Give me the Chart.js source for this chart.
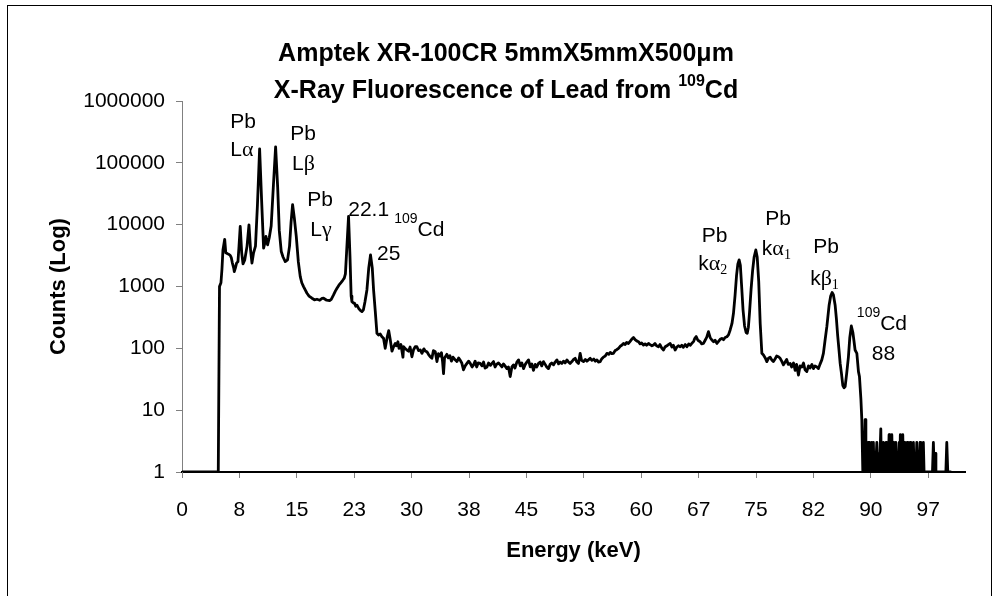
<!DOCTYPE html>
<html>
<head>
<meta charset="utf-8">
<title>XRF of Lead from 109Cd</title>
<script src="https://cdn.jsdelivr.net/npm/chart.js@4.4.0/dist/chart.umd.min.js"></script>
<style>
  html, body { margin: 0; padding: 0; background: #fff; }
  #wrap { width: 1003px; height: 596px; }
</style>
</head>
<body>
<div id="wrap"><canvas id="spectrum" width="1003" height="596"></canvas></div>
<script>
const xTickLabels = ['0', '8', '15', '23', '30', '38', '45', '53', '60', '67', '75', '82', '90', '97'];
const xTickStep = 7.5;
const yTickValues = [1, 10, 100, 1000, 10000, 100000, 1000000];

const energyKeV = [
    0, 2.5, 4.74, 4.9, 5.09, 5.22, 5.35, 5.58, 5.72, 5.96,
    6.15, 6.31, 6.45, 6.57, 6.75, 6.83, 6.98, 7.13, 7.31, 7.45,
    7.61, 7.8, 7.97, 8.2, 8.5, 8.75, 8.95, 9.14, 9.35, 9.6,
    9.85, 10.14, 10.4, 10.66, 10.85, 10.97, 11.18, 11.4, 11.65, 11.95,
    12.23, 12.5, 12.71, 12.97, 13.2, 13.49, 13.79, 14.05, 14.25, 14.45,
    14.67, 14.93, 15.2, 15.45, 15.65, 15.88, 16.1, 16.33, 16.6, 16.98,
    17.3, 17.63, 18.0, 18.3, 18.5, 18.9, 19.28, 19.5, 19.8, 20.05,
    20.25, 20.5, 20.77, 21.0, 21.2, 21.35, 21.5, 21.76, 21.95, 22.1,
    22.2, 22.4, 22.54, 22.7, 22.86, 23.1, 23.3, 23.51, 23.7, 23.9,
    24.16, 24.4, 24.63, 24.86, 25.03, 25.25, 25.47, 25.68, 25.9, 26.12,
    26.33, 26.55, 26.8, 27.01, 27.2, 27.43, 27.64, 27.86, 28.0, 28.21,
    28.35, 28.6, 28.87, 28.95, 29.2, 29.39, 29.6, 29.8, 30.04, 30.25,
    30.47, 30.69, 30.9, 31.13, 31.35, 31.6, 31.8, 32.0, 32.2, 32.43,
    32.65, 32.85, 33.09, 33.31, 33.5, 33.7, 33.9, 34.05, 34.17, 34.3,
    34.61, 34.8, 35.0, 35.2, 35.4, 35.65, 35.92, 36.15, 36.35, 36.55,
    36.78, 37.0, 37.23, 37.45, 37.66, 37.9, 38.09, 38.3, 38.5, 38.7,
    38.96, 39.2, 39.4, 39.6, 39.84, 40.05, 40.3, 40.5, 40.7, 40.9,
    41.1, 41.35, 41.58, 41.8, 42.0, 42.2, 42.45, 42.65, 42.88, 43.1,
    43.31, 43.5, 43.75, 43.97, 44.2, 44.4, 44.62, 44.85, 45.05, 45.27,
    45.5, 45.7, 45.92, 46.15, 46.35, 46.58, 46.8, 47.0, 47.23, 47.45,
    47.65, 47.88, 48.1, 48.3, 48.54, 48.75, 48.98, 49.2, 49.4, 49.63,
    49.85, 50.05, 50.29, 50.5, 50.7, 50.94, 51.15, 51.37, 51.6, 51.8,
    52.02, 52.2, 52.46, 52.7, 52.9, 53.1, 53.33, 53.55, 53.8, 54.0,
    54.21, 54.4, 54.64, 54.85, 55.05, 55.3, 55.51, 55.75, 55.95, 56.15,
    56.37, 56.6, 56.8, 57.03, 57.25, 57.45, 57.68, 57.9, 58.1, 58.33,
    58.55, 58.75, 58.99, 59.2, 59.4, 59.64, 59.85, 60.05, 60.29, 60.5,
    60.7, 60.95, 61.15, 61.4, 61.6, 61.8, 62.0, 62.25, 62.45, 62.7,
    62.91, 63.1, 63.35, 63.55, 63.78, 64.0, 64.2, 64.43, 64.65, 64.85,
    65.09, 65.3, 65.5, 65.75, 65.96, 66.2, 66.4, 66.61, 66.85, 67.0,
    67.18, 67.4, 67.7, 67.9, 68.13, 68.35, 68.55, 68.78, 69.0, 69.23,
    69.45, 69.65, 69.88, 70.1, 70.31, 70.53, 70.75, 70.96, 71.19, 71.4,
    71.62, 71.85, 72.05, 72.25, 72.45, 72.62, 72.79, 72.95, 73.12, 73.3,
    73.5, 73.7, 73.85, 74.0, 74.15, 74.35, 74.55, 74.75, 74.97, 75.15,
    75.35, 75.54, 75.76, 75.97, 76.2, 76.41, 76.62, 76.85, 77.05, 77.27,
    77.5, 77.7, 77.93, 78.15, 78.35, 78.58, 78.8, 79.0, 79.2, 79.45,
    79.65, 79.9, 80.11, 80.3, 80.54, 80.75, 80.98, 81.2, 81.4, 81.63,
    81.85, 82.05, 82.3, 82.5, 82.7, 82.95, 83.15, 83.35, 83.59, 83.8,
    84.0, 84.25, 84.55, 84.75, 84.94, 85.1, 85.33, 85.5, 85.66, 85.85,
    85.99, 86.15, 86.34, 86.5, 86.64, 86.85, 87.07, 87.25, 87.45, 87.65,
    87.8, 87.94, 88.17, 88.38, 88.51, 88.7, 88.82, 88.95, 89.1, 89.25,
    89.35, 89.47, 89.56, 89.64, 89.73, 89.81, 89.9, 89.99, 90.06, 90.12,
    90.2, 90.33, 90.42, 90.51, 90.6, 90.78, 90.88, 91.04, 91.12, 91.3,
    91.38, 91.47, 91.55, 91.64, 91.73, 91.82, 91.9, 91.99, 92.07, 92.16,
    92.26, 92.38, 92.47, 92.56, 92.65, 92.74, 92.83, 92.91, 93.0, 93.08,
    93.16, 93.26, 93.35, 93.45, 93.55, 93.7, 93.78, 93.85, 93.94, 94.02,
    94.1, 94.17, 94.26, 94.34, 94.44, 94.58, 94.66, 94.75, 94.84, 94.95,
    95.04, 95.13, 95.22, 95.35, 95.45, 95.56, 95.66, 95.78, 95.88, 96.0,
    96.1, 96.21, 96.3, 96.43, 96.52, 96.66, 96.76, 96.86, 96.95, 98.05,
    98.17, 98.28, 98.4, 98.5, 99.8, 99.92, 100.05, 100.4
];

const counts = [
    1, 1, 1, 1000, 1150, 1900, 3900, 5800, 3500, 3380,
    3300, 3170, 2900, 2440, 2000, 1742, 2000, 2385, 2534, 4500,
    9355, 3500, 2323, 2700, 4500, 9955, 4000, 2385, 3504, 4500,
    20000, 168000, 25000, 4177, 5200, 6443, 4725, 6135, 9500, 45000,
    181000, 40000, 8000, 3679, 3000, 2534, 2699, 4500, 11000, 21040,
    13000, 6443, 2500, 1446, 1150, 996, 880, 778, 700, 646,
    610, 622, 600, 640, 646, 600, 591, 620, 731, 850,
    938, 1050, 1156, 1260, 1363, 1600, 3500, 13580, 3000, 700,
    569, 540, 536, 480, 500, 440, 410, 392, 420, 560,
    881, 2000, 3252, 2000, 881, 400, 175, 164, 170, 154,
    145, 100, 150, 193, 140, 90, 106, 120, 110, 128,
    100, 115, 72, 106, 98, 94, 90, 105, 73, 95,
    106, 106, 92, 94, 83, 98, 90, 88, 80, 73,
    69, 92, 88, 61, 82, 75, 85, 60, 39, 70,
    80, 70, 76, 62, 72, 66, 61, 70, 64, 58,
    45, 52, 57, 62, 57, 50, 54, 62, 50, 58,
    57, 52, 60, 48, 50, 58, 53, 57, 61, 50,
    55, 58, 54, 50, 56, 52, 47, 50, 35, 50,
    54, 48, 60, 65, 52, 58, 47, 55, 60, 65,
    50, 56, 44, 55, 50, 57, 60, 52, 61, 55,
    50, 47, 55, 58, 54, 60, 65, 56, 60, 57,
    62, 58, 65, 60, 57, 61, 66, 69, 60, 57,
    83, 64, 61, 66, 62, 65, 69, 64, 67, 62,
    65, 60, 61, 68, 72, 75, 83, 80, 86, 82,
    83, 92, 95, 100, 108, 112, 120, 115, 125, 120,
    130, 140, 150, 138, 132, 128, 118, 122, 113, 118,
    112, 120, 115, 110, 113, 120, 110, 106, 115, 100,
    94, 105, 110, 115, 120, 105, 112, 94, 105, 110,
    106, 112, 104, 115, 106, 118, 112, 120, 130, 145,
    155, 135, 128, 118, 120, 135, 150, 186, 150, 136,
    128, 135, 120, 130, 140, 145, 138, 150, 154, 165,
    198, 250, 369, 700, 1500, 2300, 2700, 2200, 1000, 420,
    230, 180, 175, 220, 380, 900, 1800, 3000, 3900, 3000,
    1200, 254, 83, 78, 70, 61, 69, 72, 65, 61,
    68, 75, 73, 69, 62, 54, 60, 66, 55, 57,
    50, 58, 44, 55, 37, 52, 50, 58, 45, 42,
    52, 48, 55, 47, 52, 50, 47, 55, 65, 83,
    130, 224, 504, 700, 800, 740, 504, 300, 164, 90,
    57, 40, 25, 23, 24, 40, 73, 150, 230, 180,
    130, 94, 83, 42, 35, 15, 7, 1, 1, 7,
    1, 3, 1, 3, 1, 3, 1, 2, 1, 3,
    1, 3, 1, 2, 1, 3, 1, 2, 1, 5,
    1, 2, 1, 3, 1, 2, 1, 3, 1, 2,
    1, 4, 1, 3, 1, 4, 1, 3, 1, 2,
    1, 3, 1, 2, 1, 3, 1, 4, 1, 2,
    1, 4, 1, 3, 1, 2, 1, 3, 1, 2,
    1, 3, 1, 2, 1, 3, 1, 2, 1, 3,
    1, 2, 1, 3, 1, 2, 1, 3, 1, 1,
    3, 1, 2, 1, 1, 3, 1, 1
];

// Etiquetas de picos, ancladas en (energía, cuentas) de su línea base
const peakLabels = [
    { energy: 6.31, counts: 368000, runs: [['Pb']] },
    { energy: 6.31, counts: 127000, runs: [['L'], ['α', 'greek']] },
    { energy: 14.15, counts: 238000, runs: [['Pb']] },
    { energy: 14.37, counts: 77600, runs: [['L'], ['β', 'greek']] },
    { energy: 16.37, counts: 19700, runs: [['Pb']] },
    { energy: 16.76, counts: 6440, runs: [['L'], ['γ', 'greek']] },
    { energy: 21.72, counts: 13580, runs: [['22.1']] },
    { energy: 27.73, counts: 6440, runs: [['109', 'sup'], ['Cd']] },
    { energy: 25.47, counts: 2700, runs: [['25']] },
    { energy: 67.92, counts: 5340, runs: [['Pb']] },
    { energy: 67.44, counts: 1858, runs: [['k'], ['α', 'greek'], ['2', 'sub']] },
    { energy: 76.19, counts: 9960, runs: [['Pb']] },
    { energy: 75.76, counts: 3250, runs: [['k'], ['α', 'greek'], ['1', 'sub']] },
    { energy: 82.46, counts: 3466, runs: [['Pb']] },
    { energy: 82.07, counts: 1062, runs: [['k'], ['β', 'greek'], ['1', 'sub']] },
    { energy: 88.17, counts: 198, runs: [['109', 'sup'], ['Cd']] },
    { energy: 90.12, counts: 64.6, runs: [['88']] }
];

const titleLines = [
    [['Amptek XR-100CR 5mmX5mmX500μm', 'bold']],
    [['X-Ray Fluorescence of Lead from ', 'bold'], ['109', 'boldSup'], ['Cd', 'bold']]
];

const SANS = "'Liberation Sans', Arial, sans-serif";
const SERIF = "'Liberation Serif', 'Times New Roman', serif";

const runStyles = {
    normal: { font: '21px ' + SANS, dy: 0 },
    greek: { font: '22px ' + SERIF, dy: 0 },
    sub: { font: '14px ' + SERIF, dy: 4 },
    sup: { font: '14px ' + SANS, dy: -13 },
    bold: { font: 'bold 25px ' + SANS, dy: 0 },
    boldSup: { font: 'bold 16px ' + SANS, dy: -12 }
};

function runsWidth(ctx, runs) {
    let w = 0;
    runs.forEach(([text, kind]) => {
        ctx.font = runStyles[kind || 'normal'].font;
        w += ctx.measureText(text).width;
    });
    return w;
}

function drawRuns(ctx, runs, x, y) {
    runs.forEach(([text, kind]) => {
        const style = runStyles[kind || 'normal'];
        ctx.font = style.font;
        ctx.fillText(text, x, y + style.dy);
        x += ctx.measureText(text).width;
    });
}

// Marco, título y rótulos de picos
const decorPlugin = {
    id: 'decor',
    beforeDraw(chart) {
        const ctx = chart.ctx;
        ctx.save();
        ctx.fillStyle = '#fff';
        ctx.fillRect(0, 0, chart.width, chart.height);
        ctx.restore();
    },
    afterDraw(chart) {
        const ctx = chart.ctx;
        ctx.save();
        ctx.strokeStyle = '#000';
        ctx.lineWidth = 1;
        ctx.strokeRect(7.5, 5.5, 984, 700);

        ctx.fillStyle = '#000';
        ctx.textBaseline = 'alphabetic';
        ctx.textAlign = 'left';

        const titleBaselines = [61, 98];
        const titleCenter = 506;
        titleLines.forEach((runs, i) => {
            const w = runsWidth(ctx, runs);
            drawRuns(ctx, runs, titleCenter - w / 2, titleBaselines[i]);
        });

        const xs = chart.scales.x;
        const ys = chart.scales.y;
        peakLabels.forEach(lbl => {
            drawRuns(ctx, lbl.runs, xs.getPixelForValue(lbl.energy), ys.getPixelForValue(lbl.counts));
        });
        ctx.restore();
    }
};

const tickFont = { family: SANS, size: 21 };
const axisTitleFont = { family: SANS, size: 22, weight: 'bold' };

new Chart(document.getElementById('spectrum'), {
    type: 'line',
    data: {
        datasets: [{
            label: 'Counts',
            data: energyKeV.map((e, i) => ({ x: e, y: counts[i] })),
            borderColor: '#000',
            borderWidth: 2.8,
            borderJoinStyle: 'round',
            borderCapStyle: 'round',
            pointRadius: 0,
            tension: 0,
            fill: false
        }]
    },
    options: {
        responsive: false,
        animation: false,
        devicePixelRatio: 1,
        layout: { padding: { left: 0, top: 101, right: 38, bottom: 0 } },
        plugins: {
            legend: { display: false },
            tooltip: { enabled: false },
            title: { display: false }
        },
        scales: {
            x: {
                type: 'linear',
                min: 0,
                max: 102.3,
                afterBuildTicks: scale => {
                    scale.ticks = xTickLabels.map((_, i) => ({ value: i * xTickStep }));
                },
                afterFit: scale => { scale.height = 124; },
                ticks: {
                    callback: (value, index) => xTickLabels[index],
                    font: tickFont,
                    color: '#000',
                    padding: 20,
                    maxRotation: 0,
                    autoSkip: false
                },
                grid: { drawOnChartArea: false, drawTicks: true, tickLength: 6, color: '#808080' },
                border: { display: true, color: '#000', width: 2 },
                title: {
                    display: true,
                    text: 'Energy (keV)',
                    font: axisTitleFont,
                    color: '#000',
                    padding: { top: 0, bottom: 32 }
                }
            },
            y: {
                type: 'logarithmic',
                min: 1,
                max: 1000000,
                afterBuildTicks: scale => {
                    scale.ticks = yTickValues.map(v => ({ value: v }));
                },
                afterFit: scale => { scale.width = 182; },
                ticks: {
                    callback: (value, index) => String(yTickValues[index]),
                    font: tickFont,
                    color: '#000',
                    padding: 11
                },
                grid: { drawOnChartArea: false, drawTicks: true, tickLength: 6, color: '#808080' },
                border: { display: true, color: '#808080', width: 1 },
                title: {
                    display: true,
                    text: 'Counts (Log)',
                    font: axisTitleFont,
                    color: '#000',
                    padding: { top: 46, bottom: 0 }
                }
            }
        }
    },
    plugins: [decorPlugin]
});
</script>
</body>
</html>
